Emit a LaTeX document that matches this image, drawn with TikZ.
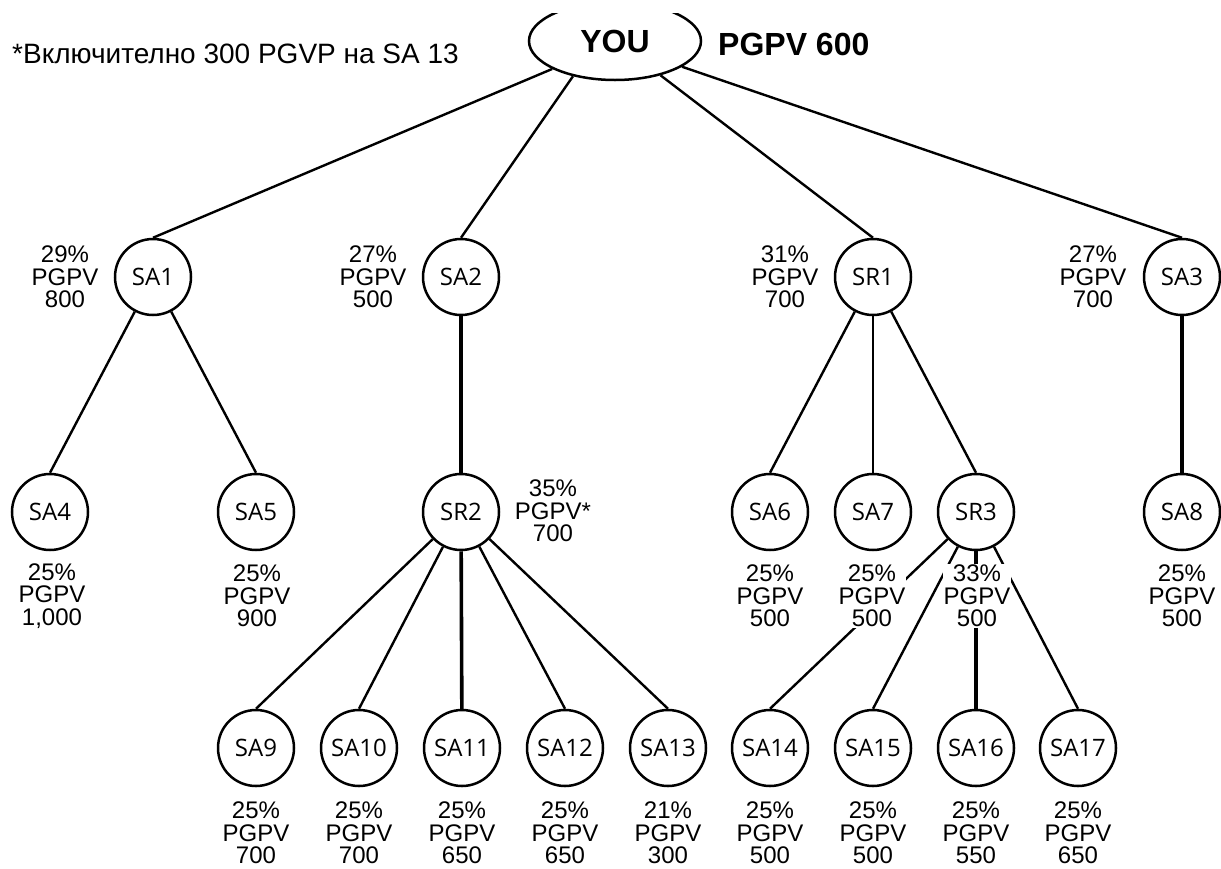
\documentclass[tikz,border=0pt]{standalone}
\usepackage{fontspec}
\setmainfont{Liberation Sans}
\newfontfamily\circfont{Open Sans}
\usetikzlibrary{shapes.geometric}
\begin{document}
\begin{tikzpicture}[x=1pt,y=-1pt,
  circ/.style={circle, draw, line width=2.5pt, minimum size=76pt, inner sep=0pt,
    font=\circfont\fontsize{24}{24}\selectfont},
  lab/.style={align=center, font=\fontsize{24}{22.5}\selectfont, fill=white, inner sep=1pt},
  conn/.style={line width=2.4pt},
  thickconn/.style={line width=3.6pt}]
\useasboundingbox (0,0) rectangle (1221,868);
\fill[white] (0,0) rectangle (1221,868);

% top
\begin{scope}
\clip (0,13) rectangle (1221,868);
\node[ellipse, draw, line width=2.5pt, minimum width=172pt, minimum height=78pt, inner sep=0pt,
  font=\bfseries\fontsize{32}{32}\selectfont] (you) at (615,41) {YOU};
\end{scope}
\node[anchor=base west, inner sep=0pt, font=\bfseries\fontsize{32}{32}\selectfont] (total) at (718,55) {PGPV 600};
\node[anchor=base west, inner sep=0pt, font=\fontsize{28}{28}\selectfont] (note) at (12,63) {*Включително 300 PGVP на SA 13};

% circles
\node[circ] (SA1) at (153,277) {SA1};
\node[circ] (SA2) at (461,277) {SA2};
\node[circ] (SR1) at (873,277) {SR1};
\node[circ] (SA3) at (1182,277) {SA3};
\node[circ] (SA4) at (50,512) {SA4};
\node[circ] (SA5) at (256,512) {SA5};
\node[circ] (SR2) at (461,512) {SR2};
\node[circ] (SA6) at (770,512) {SA6};
\node[circ] (SA7) at (873,512) {SA7};
\node[circ] (SR3) at (976,512) {SR3};
\node[circ] (SA8) at (1182,512) {SA8};
\node[circ] (SA9) at (256,748) {SA9};
\node[circ] (SA10) at (359,748) {SA10};
\node[circ] (SA11) at (462,748) {SA11};
\node[circ] (SA12) at (565,748) {SA12};
\node[circ] (SA13) at (668,748) {SA13};
\node[circ] (SA14) at (770,748) {SA14};
\node[circ] (SA15) at (873,748) {SA15};
\node[circ] (SA16) at (976,748) {SA16};
\node[circ] (SA17) at (1078,748) {SA17};

% connectors
\draw[conn] (you.204) -- (SA1.north);
\draw[conn] (you.220) -- (SA2.north);
\draw[conn] (you.323) -- (SR1.north);
\draw[conn] (you.339) -- (SA3.north);
\draw[conn] (SA1) -- (SA4.north);
\draw[conn] (SA1) -- (SA5.north);
\draw[thickconn] (SA2) -- (SR2);
\draw[conn] (SR1) -- (SA6.north);
\draw[conn] (SR1) -- (SA7.north);
\draw[conn] (SR1) -- (SR3.north);
\draw[thickconn] (SA3) -- (SA8);
\draw[conn] (SR2) -- (SA9.north);
\draw[conn] (SR2) -- (SA10.north);
\draw[thickconn] (SR2) -- (SA11);
\draw[conn] (SR2) -- (SA12.north);
\draw[conn] (SR2) -- (SA13.north);
\draw[conn] (SR3) -- (SA14.north);
\draw[conn] (SR3) -- (SA15.north);
\draw[thickconn] (SR3) -- (SA16);
\draw[conn] (SR3) -- (SA17.north);

% labels
\node[lab] (lSA1) at (65,277) {29\%\\PGPV\\800};
\node[lab] (lSA2) at (373,277) {27\%\\PGPV\\500};
\node[lab] (lSR1) at (785,277) {31\%\\PGPV\\700};
\node[lab] (lSA3) at (1093,277) {27\%\\PGPV\\700};
\node[lab] (lSA4) at (52,596) {25\%\\PGPV\\1,000};
\node[lab] (lSA5) at (257,596) {25\%\\PGPV\\900};
\node[lab] (lSR2) at (553,511) {35\%\\PGPV*\\700};
\node[lab] (lSA6) at (770,596) {25\%\\PGPV\\500};
\node[lab] (lSA7) at (872,596) {25\%\\PGPV\\500};
\node[lab] (lSR3) at (977,596) {33\%\\PGPV\\500};
\node[lab] (lSA8) at (1182,596) {25\%\\PGPV\\500};
\node[lab] (lSA9) at (256,833) {25\%\\PGPV\\700};
\node[lab] (lSA10) at (359,833) {25\%\\PGPV\\700};
\node[lab] (lSA11) at (462,833) {25\%\\PGPV\\650};
\node[lab] (lSA12) at (565,833) {25\%\\PGPV\\650};
\node[lab] (lSA13) at (668,833) {21\%\\PGPV\\300};
\node[lab] (lSA14) at (770,833) {25\%\\PGPV\\500};
\node[lab] (lSA15) at (873,833) {25\%\\PGPV\\500};
\node[lab] (lSA16) at (976,833) {25\%\\PGPV\\550};
\node[lab] (lSA17) at (1078,833) {25\%\\PGPV\\650};
\end{tikzpicture}
\end{document}
